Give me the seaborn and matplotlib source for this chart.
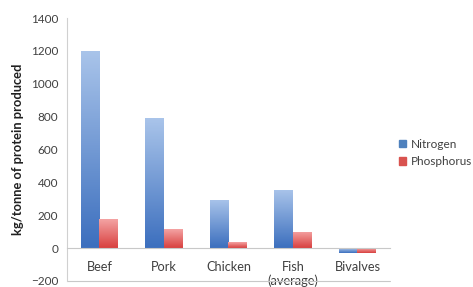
import matplotlib
matplotlib.use("Agg")
import matplotlib.pyplot as plt
import seaborn as sns
import numpy as np
import pandas as pd
from matplotlib.colors import LinearSegmentedColormap
from matplotlib.ticker import FixedLocator

categories = ["Beef", "Pork", "Chicken", "Fish\n(average)", "Bivalves"]
nitrogen = [1200, 790, 295, 355, -30]
phosphorus = [175, 115, 35, 100, -30]
series = ["Nitrogen", "Phosphorus"]

df = pd.DataFrame({
    "food": categories * 2,
    "value": nitrogen + phosphorus,
    "element": ["Nitrogen"] * 5 + ["Phosphorus"] * 5,
})

sns.set_style("white")
plt.rcParams['font.family'] = ['Lato', 'DejaVu Sans']

fig = plt.figure(figsize=(4.73, 2.87), dpi=100)
ax = fig.add_axes([0.142, 0.021, 0.682, 0.916])

palette = {"Nitrogen": "#4F81BD", "Phosphorus": "#D9534F"}
sns.barplot(data=df, x="food", y="value", hue="element", palette=palette,
            width=0.58, ax=ax, legend=False)

# gradient fill like the old Excel style
grads = {
    "Nitrogen": LinearSegmentedColormap.from_list("b", ["#3C6FBE", "#A9C4EA"]),
    "Phosphorus": LinearSegmentedColormap.from_list("r", ["#D8403F", "#F4A3A3"]),
}
grad = np.linspace(0, 1, 100).reshape(-1, 1)
bars = ax.patches[:10]
for i, p in enumerate(bars):
    name = series[i // 5]
    x0, y0 = p.get_x(), p.get_y()
    w, h = p.get_width(), p.get_height()
    p.set_alpha(0)
    img = ax.imshow(grad, cmap=grads[name], origin="lower", aspect="auto",
                    extent=[x0, x0 + w, min(y0, y0 + h), max(y0, y0 + h)],
                    zorder=2)
    img.set_clip_path(plt.Rectangle((x0, y0), w, h, transform=ax.transData))

ax.set_xlim(-0.5, 4.5)
ax.set_ylim(-200, 1400)
ax.set_yticks(range(-200, 1401, 200))
ax.tick_params(axis="y", labelsize=8.5, colors="#404040", length=3, width=0.6)
ax.tick_params(axis="x", labelsize=9.2, colors="#404040", length=0, pad=9)
ax.xaxis.set_minor_locator(FixedLocator([0.5, 1.5, 2.5, 3.5]))
ax.tick_params(axis="x", which="minor", length=3, width=0.6, color="#C8C8C8", direction="out")
ax.set_xlabel("")
ax.set_ylabel("kg/tonne of protein produced", fontsize=9.3, fontweight="bold",
              color="#202020", labelpad=5)

for s in ["top", "right"]:
    ax.spines[s].set_visible(False)
ax.spines["bottom"].set_position(("data", 0))
ax.spines["bottom"].set_color("#C8C8C8")
ax.spines["bottom"].set_linewidth(0.8)
ax.spines["left"].set_color("#D0D0D0")
ax.spines["left"].set_linewidth(0.8)
ax.axhline(-200, color="#C8C8C8", lw=0.8, clip_on=False)

handles = [plt.Rectangle((0, 0), 1, 1, color=palette[s]) for s in series]
fig.legend(handles, series, loc="center left", bbox_to_anchor=(0.843, 0.467),
           frameon=False, fontsize=8.5, handlelength=0.6, handleheight=0.6,
           handletextpad=0.4, labelspacing=0.55, labelcolor="#404040",
           borderaxespad=0, borderpad=0)

fig.savefig("out.png", dpi=100)
